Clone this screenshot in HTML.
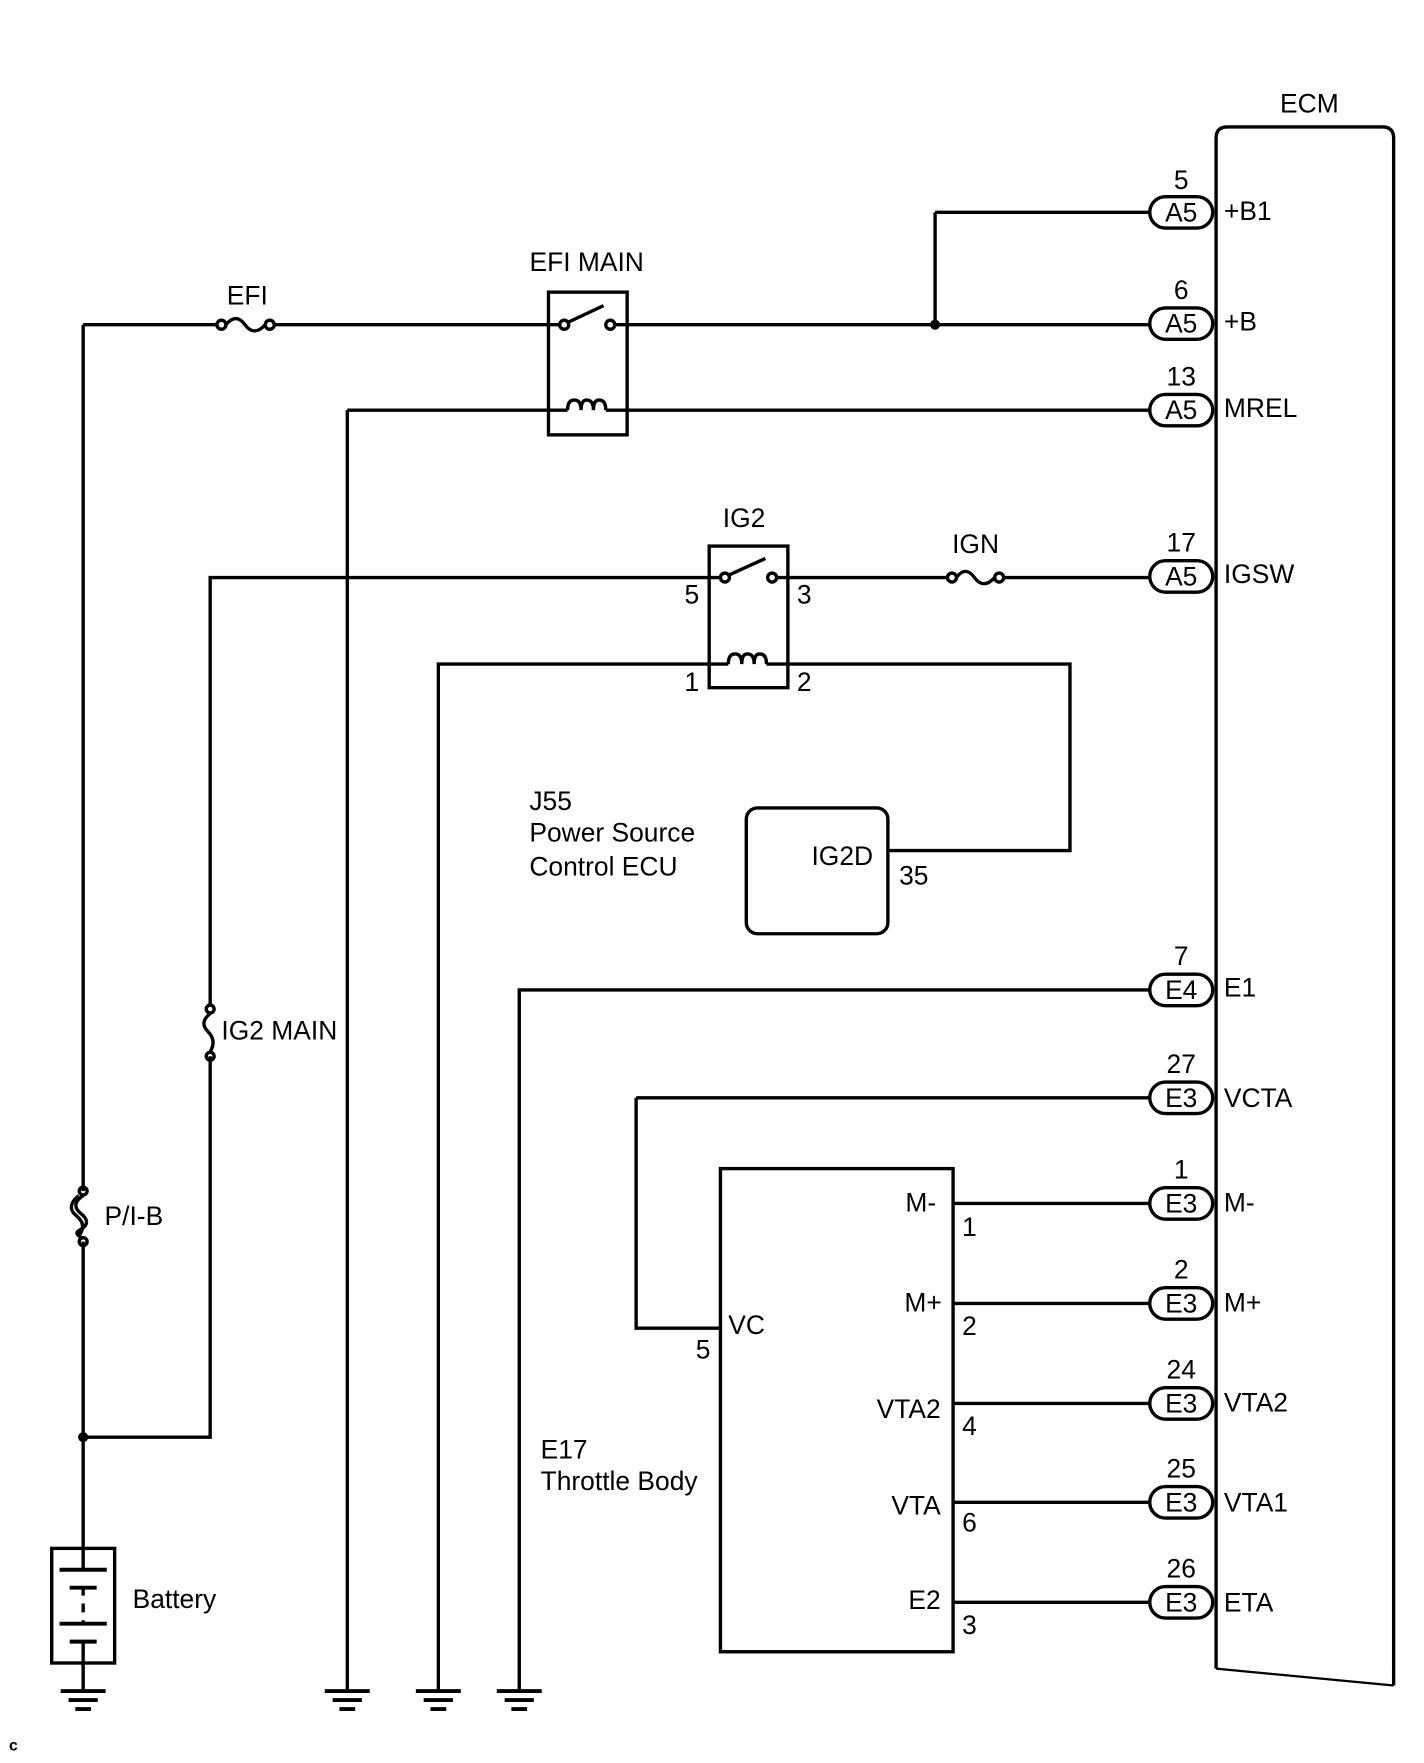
<!DOCTYPE html>
<html><head><meta charset="utf-8"><style>
html,body{margin:0;padding:0;background:#fff;}
svg{display:block;}
text{font-family:"Liberation Sans",Arial,sans-serif;font-size:23.5px;fill:#000;}
</style></head><body>
<svg width="1424" height="1763" viewBox="0 0 1267 1569" preserveAspectRatio="none" xmlns="http://www.w3.org/2000/svg">
<g stroke="#000" stroke-width="3" fill="none">
<path d="M1082,1485 L1082,123 Q1082,113 1092,113 L1230,113 Q1240,113 1240,123 L1240,1500"/>
<path d="M1082,1485 L1240,1500" stroke-width="2"/>
<path d="M832,189 H1023 M832,189 V289"/>
<path d="M74,289 H193 M243,289 H497 M548,289 H1023"/>
<circle cx="197" cy="289" r="4"/><circle cx="240" cy="289" r="4"/>
<path d="M201,289 Q210,278 218,289 Q226,300 236,289"/>
<rect x="488" y="260" width="70" height="127"/>
<circle cx="502" cy="289" r="4"/><circle cx="543" cy="289" r="4"/>
<path d="M505,287 L537,272"/>
<path d="M309,365 H505 M539,365 H1023"/>
<path d="M505,365 q0,-9 6,-9 q6,0 6,9 q0,-9 5,-9 q6,0 6,9 q0,-9 5,-9 q6,0 6,9"/>
<path d="M309,365 V1505"/>
<path d="M74,289 V1060 M74,1105 V1378"/>
<circle cx="74" cy="1060" r="3.5"/><circle cx="74" cy="1105" r="3.5"/>
<path d="M74,1064 Q62,1072 72,1080 Q82,1088 72,1094 Q64,1098 74,1102 M70,1064 Q58,1074 68,1082 Q78,1090 70,1100"/>
<path d="M74,1279 H187 V940 M187,895 V514 H640"/>
<circle cx="187" cy="898" r="3.5"/><circle cx="187" cy="940" r="3.5"/>
<path d="M187,902 Q177,910 185,918 Q193,926 187,936"/>
<rect x="631" y="486" width="70" height="126"/>
<circle cx="645" cy="514" r="4"/><circle cx="687" cy="514" r="4"/>
<path d="M648,512 L681,497"/>
<path d="M691,514 H843 M893,514 H1023"/>
<circle cx="847" cy="514" r="4"/><circle cx="889" cy="514" r="4"/>
<path d="M851,514 Q859,503 867,514 Q875,525 885,514"/>
<path d="M390,1505 V591 H648 M682,591 H952 V757 H790"/>
<path d="M648,591 q0,-9 6,-9 q6,0 6,9 q0,-9 5,-9 q6,0 6,9 q0,-9 5,-9 q6,0 6,9"/>
<rect x="664" y="719" width="126" height="112" rx="10"/>
<path d="M462,1505 V881 H1023"/>
<path d="M566,977 H1023 M566,977 V1182 H641"/>
<rect x="641" y="1040" width="207" height="430"/>
<path d="M848,1071 H1023 M848,1160 H1023 M848,1249 H1023 M848,1337 H1023 M848,1426 H1023"/>
<rect x="46" y="1378" width="56" height="102"/>
<path d="M74,1378 V1397 M74,1480 V1505 M74,1413 V1420 M74,1427 V1435 M74,1442 V1445 M74,1461 V1480"/>
<path d="M53,1397 H95 M62,1413 H86 M53,1445 H95 M62,1461 H86" stroke-width="3.5"/>
<g stroke-width="3.5">
<path d="M54,1505 H94 M61,1513 H87 M67,1521 H81"/>
<path d="M289,1505 H329 M296,1513 H322 M302,1521 H316"/>
<path d="M370,1505 H410 M377,1513 H403 M383,1521 H397"/>
<path d="M442,1505 H482 M449,1513 H475 M455,1521 H469"/>
</g>
<g fill="#fff">
<rect x="1023" y="175" width="56" height="28" rx="14"/>
<rect x="1023" y="274" width="56" height="28" rx="14"/>
<rect x="1023" y="351" width="56" height="28" rx="14"/>
<rect x="1023" y="499" width="56" height="28" rx="14"/>
<rect x="1023" y="867" width="56" height="28" rx="14"/>
<rect x="1023" y="963" width="56" height="28" rx="14"/>
<rect x="1023" y="1057" width="56" height="28" rx="14"/>
<rect x="1023" y="1146" width="56" height="28" rx="14"/>
<rect x="1023" y="1235" width="56" height="28" rx="14"/>
<rect x="1023" y="1323" width="56" height="28" rx="14"/>
<rect x="1023" y="1412" width="56" height="28" rx="14"/>
</g>
</g>
<g fill="#000">
<circle cx="832" cy="289" r="4.5"/>
<circle cx="74" cy="1279" r="4.5"/>
</g>
<text x="1165" y="100" text-anchor="middle">ECM</text>
<g text-anchor="middle">
<text x="1051" y="197">A5</text><text x="1051" y="168">5</text>
<text x="1051" y="296">A5</text><text x="1051" y="266">6</text>
<text x="1051" y="373">A5</text><text x="1051" y="343">13</text>
<text x="1051" y="521">A5</text><text x="1051" y="491">17</text>
<text x="1051" y="889">E4</text><text x="1051" y="859">7</text>
<text x="1051" y="985">E3</text><text x="1051" y="955">27</text>
<text x="1051" y="1079">E3</text><text x="1051" y="1049">1</text>
<text x="1051" y="1168">E3</text><text x="1051" y="1138">2</text>
<text x="1051" y="1257">E3</text><text x="1051" y="1227">24</text>
<text x="1051" y="1345">E3</text><text x="1051" y="1315">25</text>
<text x="1051" y="1434">E3</text><text x="1051" y="1404">26</text>
<text x="220" y="271">EFI</text>
<text x="522" y="241">EFI MAIN</text>
<text x="662" y="469">IG2</text>
<text x="868" y="492">IGN</text>
</g>
<text x="1089" y="196">+B1</text>
<text x="1089" y="294">+B</text>
<text x="1089" y="371">MREL</text>
<text x="1089" y="519">IGSW</text>
<text x="1089" y="887">E1</text>
<text x="1089" y="985">VCTA</text>
<text x="1089" y="1078">M-</text>
<text x="1089" y="1167">M+</text>
<text x="1089" y="1256">VTA2</text>
<text x="1089" y="1345">VTA1</text>
<text x="1089" y="1434">ETA</text>
<text x="609" y="537">5</text><text x="709" y="537">3</text>
<text x="609" y="615">1</text><text x="709" y="615">2</text>
<text x="471" y="721">J55</text>
<text x="471" y="749">Power Source</text>
<text x="471" y="779">Control ECU</text>
<text x="722" y="770">IG2D</text>
<text x="800" y="787">35</text>
<text x="197" y="925">IG2 MAIN</text>
<text x="93" y="1090">P/I-B</text>
<text x="118" y="1431">Battery</text>
<text x="481" y="1298">E17</text>
<text x="481" y="1326">Throttle Body</text>
<text x="648" y="1187">VC</text>
<text x="619" y="1209">5</text>
<g text-anchor="end">
<text x="833" y="1078">M-</text>
<text x="838" y="1167">M+</text>
<text x="837" y="1262">VTA2</text>
<text x="837" y="1348">VTA</text>
<text x="837" y="1432">E2</text>
</g>
<text x="856" y="1100">1</text>
<text x="856" y="1188">2</text>
<text x="856" y="1277">4</text>
<text x="856" y="1363">6</text>
<text x="856" y="1454">3</text>
<text x="8" y="1558" style="font-size:14px;font-weight:bold">c</text>
</svg>
</body></html>
